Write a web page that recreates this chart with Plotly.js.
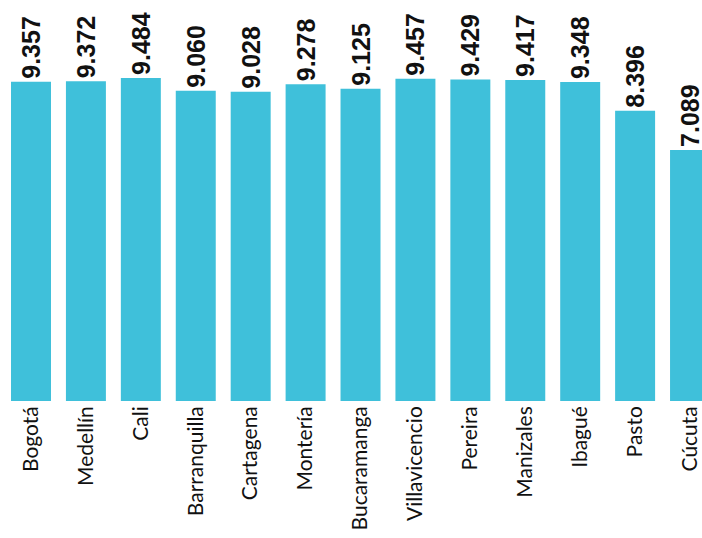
<!DOCTYPE html>
<html>
<head>
<meta charset="utf-8">
<script src="https://cdn.plot.ly/plotly-3.0.1.min.js"></script>
<style>html,body{margin:0;padding:0;background:#fff;}#chart{width:702px;height:538px;}</style>
</head>
<body>
<div id="chart"></div>
<script>
const cities = ["Bogotá","Medellín","Cali","Barranquilla","Cartagena","Montería","Bucaramanga","Villavicencio","Pereira","Manizales","Ibagué","Pasto","Cúcuta"];
const values = [9357,9372,9484,9060,9028,9278,9125,9457,9429,9417,9348,8396,7089];
const valueLabels = ["9.357","9.372","9.484","9.060","9.028","9.278","9.125","9.457","9.429","9.417","9.348","8.396","7.089"];

const axisBase = -1264;

const trace = {
  type: 'bar',
  x: cities,
  y: values.map(v => v - axisBase),
  base: axisBase,
  marker: {color: '#3fc0da'},
  text: valueLabels,
  textposition: 'outside',
  textangle: -90,
  cliponaxis: false,
  constraintext: 'none',
  textfont: {family: '"Liberation Sans", Arial, sans-serif', size: 25, color: '#111', weight: 'bold'},
  hoverinfo: 'none'
};

const layout = {
  width: 702, height: 538,
  margin: {l: 0, r: 0, t: 0, b: 137},
  paper_bgcolor: '#ffffff', plot_bgcolor: '#ffffff',
  bargap: 0.272,
  showlegend: false,
  xaxis: {
    type: 'category',
    range: [-0.5645, 12.218],
    tickangle: -90,
    ticks: '', ticklen: 0,
    showgrid: false, showline: false, zeroline: false,
    tickfont: {family: 'Lato, "Open Sans", sans-serif', size: 21, color: '#111'}
  },
  yaxis: {
    range: [axisBase, 12077],
    visible: false, showgrid: false, zeroline: false
  }
};

Plotly.newPlot('chart', [trace], layout, {displayModeBar: false, staticPlot: true});
</script>
</body>
</html>
